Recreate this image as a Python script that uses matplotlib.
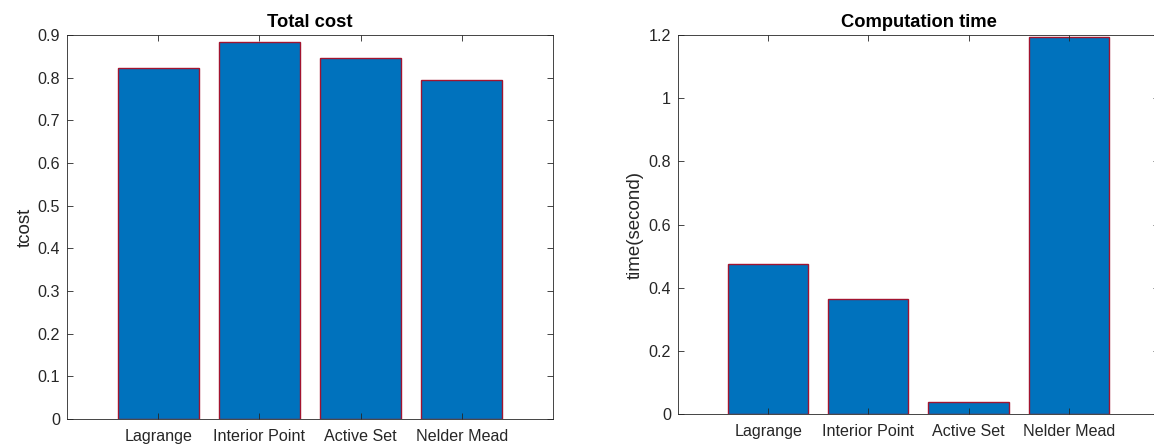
import numpy as np
import matplotlib
matplotlib.use("Agg")
import matplotlib.pyplot as plt

methods = ["Lagrange", "Interior Point", "Active Set", "Nelder Mead"]
total_cost = [0.822, 0.884, 0.845, 0.795]
comp_time = [0.475, 0.365, 0.038, 1.195]

plt.rcParams["font.family"] = ["Liberation Sans", "DejaVu Sans"]

FACE = "#0072BD"
EDGE = "#A2142F"
AXC = "#262626"

fig = plt.figure(figsize=(11.54, 4.46), dpi=100)
ax1 = fig.add_axes([0.0581, 0.0605, 0.4211, 0.861])
ax2 = fig.add_axes([0.5875, 0.0717, 0.4168, 0.8498])

def style(ax, values, ylim, yticks, yticklabels, title, ylabel):
    x = np.arange(1, len(values) + 1)
    ax.bar(x, values, width=0.8, color=FACE, edgecolor=EDGE, linewidth=1.0)
    ax.set_xlim(0.1, 4.9)
    ax.set_ylim(*ylim)
    ax.set_xticks(x)
    ax.set_xticklabels(methods, fontsize=11.6, color=AXC)
    ax.set_yticks(yticks)
    ax.set_yticklabels(yticklabels, fontsize=11.6, color=AXC)
    ax.tick_params(direction="in", top=True, right=True, length=4,
                   width=0.6, color=AXC)
    ax.tick_params(axis="x", pad=7)
    ax.tick_params(axis="y", pad=5)
    for s in ax.spines.values():
        s.set_color(AXC)
        s.set_linewidth(0.6)
    ax.set_title(title, fontsize=13.2, fontweight="bold", pad=6)
    ax.set_ylabel(ylabel, fontsize=13.5, color=AXC, labelpad=3)

style(ax1, total_cost, (0, 0.9), np.arange(0, 0.91, 0.1),
      ["0", "0.1", "0.2", "0.3", "0.4", "0.5", "0.6", "0.7", "0.8", "0.9"],
      "Total cost", "tcost")
style(ax2, comp_time, (0, 1.2), np.arange(0, 1.21, 0.2),
      ["0", "0.2", "0.4", "0.6", "0.8", "1", "1.2"],
      "Computation time", "time(second)")

fig.savefig("out.png", dpi=100)
